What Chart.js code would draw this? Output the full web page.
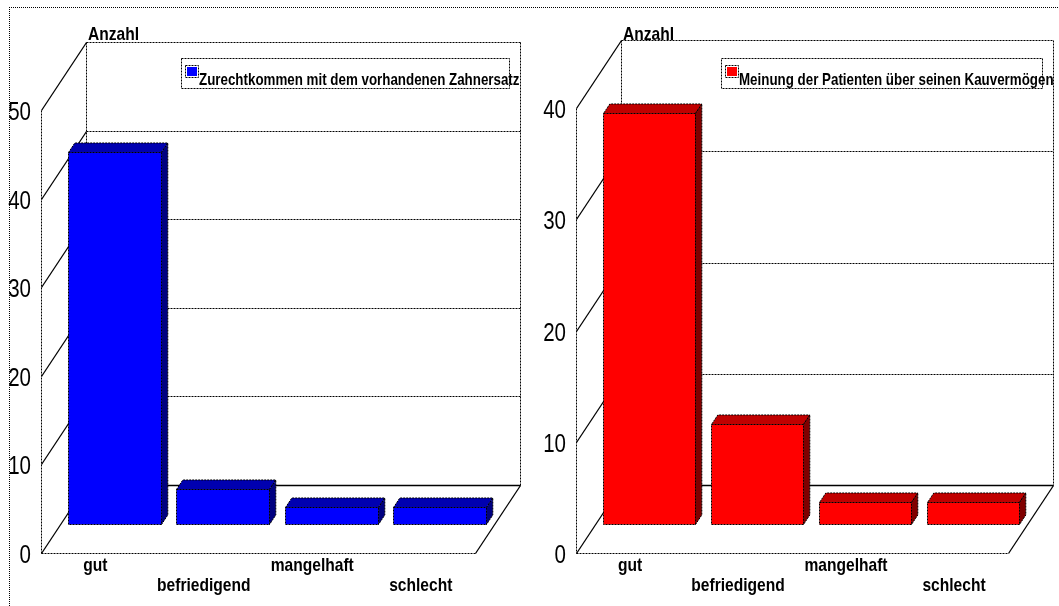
<!DOCTYPE html>
<html>
<head>
<meta charset="utf-8">
<script src="https://cdn.jsdelivr.net/npm/chart.js@4/dist/chart.umd.min.js"></script>
<style>
  html, body { margin: 0; padding: 0; background: #fff; }
  #wrap { position: relative; width: 1059px; height: 606px; overflow: hidden; }
  #frame { position: absolute; left: 9px; top: 7px; width: 1200px; height: 700px;
           border-left: 1px dotted #000; border-top: 1px dotted #000; }
  canvas { position: absolute; top: 0; }
  #c1 { left: 0; }
  #c2 { left: 530px; }
</style>
</head>
<body>
<div id="wrap">
  <div id="frame"></div>
  <canvas id="c1" width="530" height="606"></canvas>
  <canvas id="c2" width="529" height="606"></canvas>
</div>
<script>
// Rating categories (x axis)
const categories = ['gut', 'befriedigend', 'mangelhaft', 'schlecht'];

// Number of patients per rating
const zurechtkommen = [42, 4, 2, 2];
const kauvermoegen = [37, 9, 2, 2];

// Series names and axis title
const seriesLeft = 'Zurechtkommen mit dem vorhandenen Zahnersatz';
const seriesRight = 'Meinung der Patienten über seinen Kauvermögen';
const axisTitle = 'Anzahl';

// Y axis tick settings
const yMaxLeft = 50;
const yMaxRight = 40;
const yStep = 10;

const FONT = "'Liberation Sans', Arial, sans-serif";
const NARROW = 0.82;   // horizontal squeeze to get a narrow face

function narrowText(ctx, text, x, y, size, weight, align) {
  ctx.save();
  ctx.translate(x, y);
  ctx.scale(NARROW, 1);
  ctx.font = weight + ' ' + size + 'px ' + FONT;
  ctx.textAlign = align;
  ctx.textBaseline = 'alphabetic';
  ctx.fillStyle = '#000';
  ctx.fillText(text, 0, 0);
  ctx.restore();
}

const DOTS = [2, 1];

function seg(ctx, x1, y1, x2, y2, dotted) {
  ctx.save();
  ctx.strokeStyle = '#000';
  ctx.lineWidth = dotted ? 1 : 1.3;
  ctx.setLineDash(dotted ? DOTS : []);
  ctx.beginPath();
  ctx.moveTo(x1, y1);
  ctx.lineTo(x2, y2);
  ctx.stroke();
  ctx.restore();
}

function poly(ctx, pts, fill) {
  ctx.save();
  ctx.beginPath();
  ctx.moveTo(pts[0][0], pts[0][1]);
  for (let i = 1; i < pts.length; i++) ctx.lineTo(pts[i][0], pts[i][1]);
  ctx.closePath();
  ctx.fillStyle = fill;
  ctx.fill();
  ctx.strokeStyle = '#000';
  ctx.lineWidth = 1;
  ctx.setLineDash(DOTS);
  ctx.stroke();
  ctx.restore();
}

// Draws the box (walls, floor, grid, labels) and the 3D bars
const box3d = {
  id: 'box3d',
  beforeDatasetsDraw(chart, args, o) {
    const ctx = chart.ctx;
    const a = chart.chartArea;
    const xs = chart.scales.x, ys = chart.scales.y;
    const dx = o.dx, dy = o.dy;
    const L = Math.round(a.left) + 0.5, R = Math.round(a.right) + 0.5;
    const B = Math.round(a.bottom) + 0.5, T = Math.round(a.top) + 0.5;

    // back wall grid lines + left wall diagonals
    ys.ticks.forEach(t => {
      const y = Math.round(ys.getPixelForValue(t.value)) + 0.5;
      seg(ctx, L + dx, y - dy, R + dx, y - dy, t.value !== 0);
      seg(ctx, L, y, L + dx, y - dy, false);
    });
    // back wall edges
    seg(ctx, R + dx, T - dy, R + dx, B - dy, true);
    seg(ctx, L + dx, T - dy, L + dx, B - dy, true);
    // floor
    seg(ctx, L, B, R, B, true);
    seg(ctx, R, B, R + dx, B - dy, false);
    // front axis line
    seg(ctx, L, T, L, B, true);

    // y tick labels
    ys.ticks.forEach(t => {
      const y = ys.getPixelForValue(t.value);
      narrowText(ctx, String(t.value), a.left - 10, y + 10, 25, 'normal', 'right');
    });
    // category labels, alternating between two rows
    chart.data.labels.forEach((lab, i) => {
      const x = xs.getPixelForValue(i);
      narrowText(ctx, lab, x, a.bottom + (i % 2 ? 38 : 18), 19, 'bold', 'center');
    });
    // axis title
    narrowText(ctx, o.title, a.left + dx + 2, 40, 19, 'bold', 'left');
  },
  afterDatasetsDraw(chart, args, o) {
    const ctx = chart.ctx;
    const meta = chart.getDatasetMeta(0);
    const f1 = o.front, f2 = o.back;
    const ox = f1 * o.dx, oy = f1 * o.dy;
    const bx = (f2 - f1) * o.dx, by = (f2 - f1) * o.dy;
    meta.data.forEach(el => {
      const x0 = Math.round(el.x - el.width / 2 + ox) + 0.5;
      const x1 = Math.round(el.x + el.width / 2 + ox) + 0.5;
      const yt = Math.round(el.y - oy) + 0.5;
      const yb = Math.round(el.base - oy) + 0.5;
      // top face
      poly(ctx, [[x0, yt], [x1, yt], [x1 + bx, yt - by], [x0 + bx, yt - by]], o.topColor);
      // side face
      poly(ctx, [[x1, yt], [x1 + bx, yt - by], [x1 + bx, yb - by], [x1, yb]], o.sideColor);
      // front face
      poly(ctx, [[x0, yt], [x1, yt], [x1, yb], [x0, yb]], o.frontColor);
    });

    // legend
    const lg = o.legend;
    ctx.save();
    ctx.strokeStyle = '#000';
    ctx.lineWidth = 1;
    ctx.setLineDash(DOTS);
    ctx.strokeRect(lg.x + 0.5, lg.y + 0.5, lg.w, lg.h);
    ctx.strokeRect(lg.x + 4.5, lg.y + 7.5, 13, 12);
    ctx.fillStyle = o.frontColor;
    ctx.fillRect(lg.x + 6, lg.y + 9, 10, 9);
    ctx.restore();
    narrowText(ctx, chart.data.datasets[0].label, lg.x + 18, lg.y + 27, 16.3, 'bold', 'left');
  }
};

function makeChart(id, values, name, yMax, pad, colors, legend) {
  return new Chart(document.getElementById(id), {
    type: 'bar',
    data: {
      labels: categories,
      datasets: [{
        label: name,
        data: values,
        backgroundColor: 'rgba(0,0,0,0)',
        borderWidth: 0,
        categoryPercentage: 1,
        barPercentage: 0.855
      }]
    },
    options: {
      responsive: false,
      animation: false,
      events: [],
      layout: { padding: pad },
      plugins: {
        legend: { display: false },
        tooltip: { enabled: false },
        box3d: {
          dx: 45, dy: 68, front: 0.42, back: 0.56,
          frontColor: colors[0], topColor: colors[1], sideColor: colors[2],
          title: axisTitle,
          legend: legend
        }
      },
      scales: {
        x: { display: false, offset: true },
        y: { display: false, min: 0, max: yMax, ticks: { stepSize: yStep } }
      }
    },
    plugins: [box3d]
  });
}

makeChart('c1', zurechtkommen, seriesLeft, yMaxLeft,
  { left: 41, right: 55, top: 110, bottom: 53 },
  ['#0000ff', '#0000b0', '#000080'],
  { x: 181, y: 58, w: 328, h: 30 });

makeChart('c2', kauvermoegen, seriesRight, yMaxRight,
  { left: 46, right: 51, top: 108, bottom: 53 },
  ['#ff0000', '#c00000', '#800000'],
  { x: 191, y: 58, w: 321, h: 30 });
</script>
</body>
</html>
